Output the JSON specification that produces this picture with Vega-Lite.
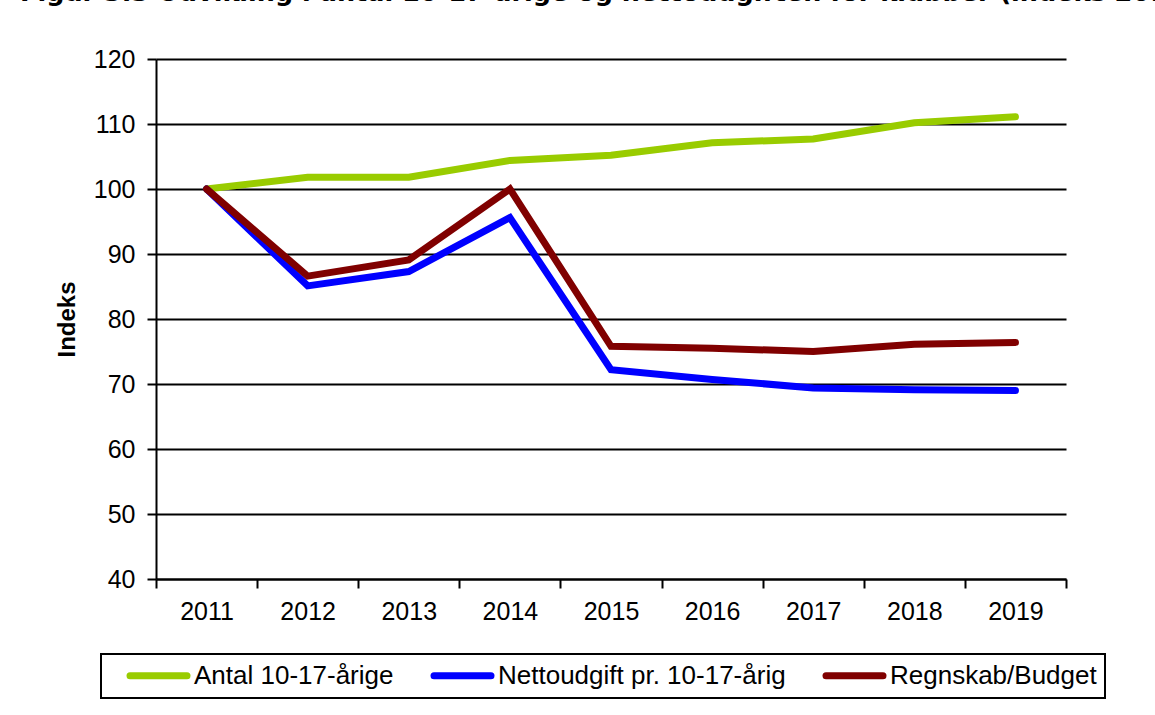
{
  "$schema": "https://vega.github.io/schema/vega-lite/v6.json",
  "autosize": "none",
  "width": 910,
  "height": 520,
  "padding": {"left": 156, "top": 59, "right": 89, "bottom": 136},
  "background": "white",
  "title": {
    "text": "Figur 3.3 Udvikling i antal 10-17-årige og nettoudgiften for klubber (indeks 2011 = 100)",
    "anchor": "start",
    "frame": "group",
    "dx": -136,
    "offset": 21,
    "baseline": "alphabetic",
    "font": "DejaVu Sans",
    "fontSize": 25.5,
    "fontWeight": "bold",
    "color": "black"
  },
  "config": {
    "view": {"stroke": null},
    "font": "Liberation Sans",
    "axis": {
      "domainColor": "black",
      "domainWidth": 2,
      "tickColor": "black",
      "tickWidth": 2,
      "tickSize": 9,
      "gridColor": "black",
      "gridWidth": 2,
      "gridOpacity": 1,
      "labelColor": "black",
      "labelFont": "Liberation Sans",
      "labelFontSize": 25,
      "titleColor": "black",
      "titleFont": "Liberation Sans"
    }
  },
  "data": {
    "values": [
      {"year": "2011", "serie": "Antal 10-17-årige", "indeks": 100},
      {"year": "2012", "serie": "Antal 10-17-årige", "indeks": 101.8},
      {"year": "2013", "serie": "Antal 10-17-årige", "indeks": 101.8},
      {"year": "2014", "serie": "Antal 10-17-årige", "indeks": 104.4},
      {"year": "2015", "serie": "Antal 10-17-årige", "indeks": 105.2},
      {"year": "2016", "serie": "Antal 10-17-årige", "indeks": 107.1},
      {"year": "2017", "serie": "Antal 10-17-årige", "indeks": 107.7},
      {"year": "2018", "serie": "Antal 10-17-årige", "indeks": 110.2},
      {"year": "2019", "serie": "Antal 10-17-årige", "indeks": 111.1},
      {"year": "2011", "serie": "Nettoudgift pr. 10-17-årig", "indeks": 100},
      {"year": "2012", "serie": "Nettoudgift pr. 10-17-årig", "indeks": 85.1},
      {"year": "2013", "serie": "Nettoudgift pr. 10-17-årig", "indeks": 87.3},
      {"year": "2014", "serie": "Nettoudgift pr. 10-17-årig", "indeks": 95.6},
      {"year": "2015", "serie": "Nettoudgift pr. 10-17-årig", "indeks": 72.2},
      {"year": "2016", "serie": "Nettoudgift pr. 10-17-årig", "indeks": 70.7},
      {"year": "2017", "serie": "Nettoudgift pr. 10-17-årig", "indeks": 69.4},
      {"year": "2018", "serie": "Nettoudgift pr. 10-17-årig", "indeks": 69.1},
      {"year": "2019", "serie": "Nettoudgift pr. 10-17-årig", "indeks": 69.0},
      {"year": "2011", "serie": "Regnskab/Budget", "indeks": 100},
      {"year": "2012", "serie": "Regnskab/Budget", "indeks": 86.6},
      {"year": "2013", "serie": "Regnskab/Budget", "indeks": 89.1},
      {"year": "2014", "serie": "Regnskab/Budget", "indeks": 100},
      {"year": "2015", "serie": "Regnskab/Budget", "indeks": 75.8},
      {"year": "2016", "serie": "Regnskab/Budget", "indeks": 75.5},
      {"year": "2017", "serie": "Regnskab/Budget", "indeks": 75.0},
      {"year": "2018", "serie": "Regnskab/Budget", "indeks": 76.1},
      {"year": "2019", "serie": "Regnskab/Budget", "indeks": 76.4}
    ]
  },
  "mark": {"type": "line", "strokeWidth": 7, "strokeCap": "round"},
  "encoding": {
    "x": {
      "field": "year",
      "type": "ordinal",
      "bandPosition": 0.5,
      "scale": {"type": "band", "paddingInner": 0, "paddingOuter": 0},
      "axis": {
        "title": null,
        "labelAngle": 0,
        "tickBand": "extent",
        "grid": false,
        "labelPadding": 11
      }
    },
    "y": {
      "field": "indeks",
      "type": "quantitative",
      "scale": {"domain": [40, 120], "nice": false, "zero": false},
      "axis": {
        "title": "Indeks",
        "titleFontSize": 24,
        "titleFontWeight": "bold",
        "titlePadding": 14,
        "values": [40, 50, 60, 70, 80, 90, 100, 110, 120],
        "grid": true,
        "labelPadding": 12
      }
    },
    "color": {
      "field": "serie",
      "type": "nominal",
      "scale": {
        "domain": ["Antal 10-17-årige", "Nettoudgift pr. 10-17-årig", "Regnskab/Budget"],
        "range": ["#99CC00", "#0000FF", "#800000"]
      },
      "legend": {
        "title": null,
        "orient": "none",
        "direction": "horizontal",
        "legendX": -55,
        "legendY": 595,
        "strokeColor": "black",
        "padding": 8,
        "symbolType": "M-2.85,0H2.85",
        "symbolSize": 400,
        "symbolStrokeWidth": 7,
        "symbolOffset": 36,
        "labelOffset": 22,
        "labelFont": "Liberation Sans",
        "labelFontSize": 26,
        "labelColor": "black",
        "labelLimit": 400,
        "columnPadding": 19,
        "encode": {
          "legend": {"update": {"strokeWidth": {"value": 2}}},
          "symbols": {"update": {"strokeCap": {"value": "round"}}}
        }
      }
    }
  }
}
